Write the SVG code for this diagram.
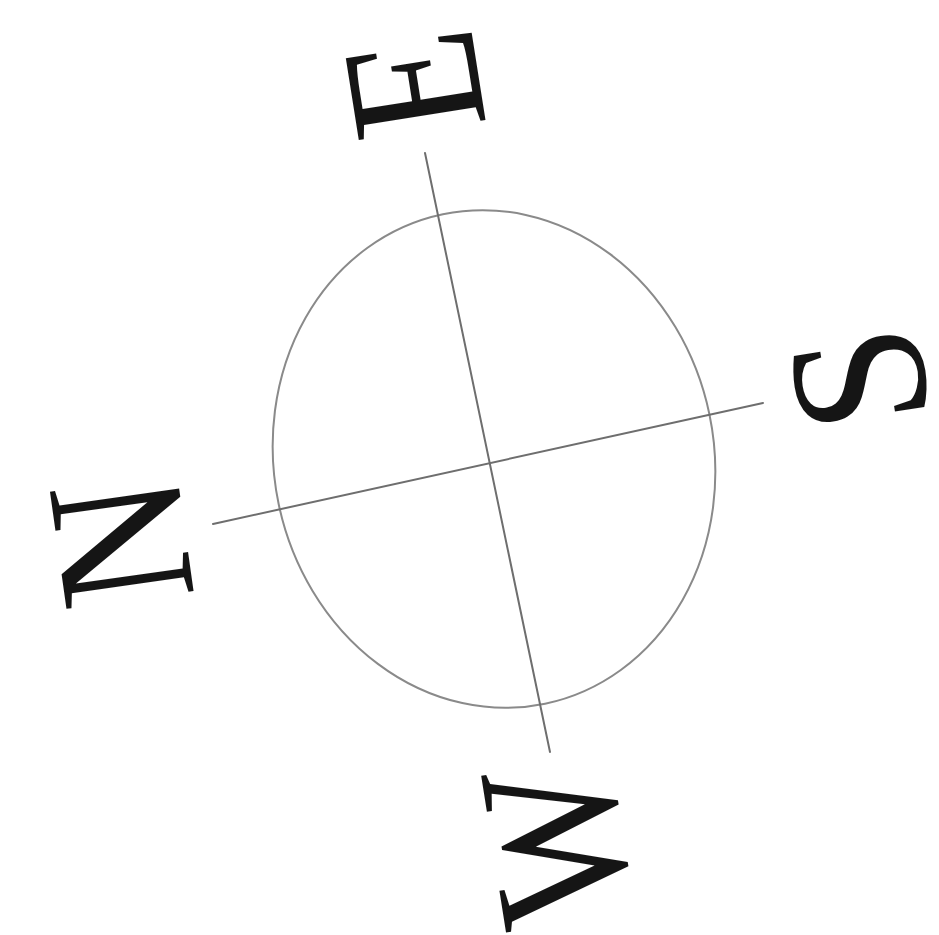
<svg xmlns="http://www.w3.org/2000/svg" width="939" height="935" viewBox="0 0 939 935">
<style>
.ln{stroke:#6e6e6e;stroke-width:2;fill:none;stroke-linecap:round}
.ring{stroke:#8a8a8a;stroke-width:2;fill:none}
.lt{font-family:"Liberation Serif","Times New Roman",serif;font-size:196px;fill:#151515;text-anchor:middle}
</style>
<rect width="939" height="935" fill="#ffffff"/>
<g id="ring">
<ellipse class="ring" cx="494" cy="459" rx="220" ry="250" transform="rotate(-11.8 494 459)"/>
</g>
<g id="connectors">
<line class="ln" x1="425" y1="153" x2="550" y2="752"/>
<line class="ln" x1="213" y1="524" x2="763" y2="403"/>
</g>
<g id="E" transform="translate(414 84) rotate(-99) scale(0.86 1)"><text class="lt" x="0" y="65">E</text></g>
<g id="N" transform="translate(121 542) rotate(-98) scale(0.9 1)"><text class="lt" x="0" y="65">N</text></g>
<g id="S" transform="translate(859 379) rotate(-99) scale(0.92 1)"><text class="lt" x="0" y="65">S</text></g>
<g id="W" transform="translate(556 844) rotate(-99) scale(0.86 1)"><text class="lt" x="0" y="65">W</text></g>
</svg>
